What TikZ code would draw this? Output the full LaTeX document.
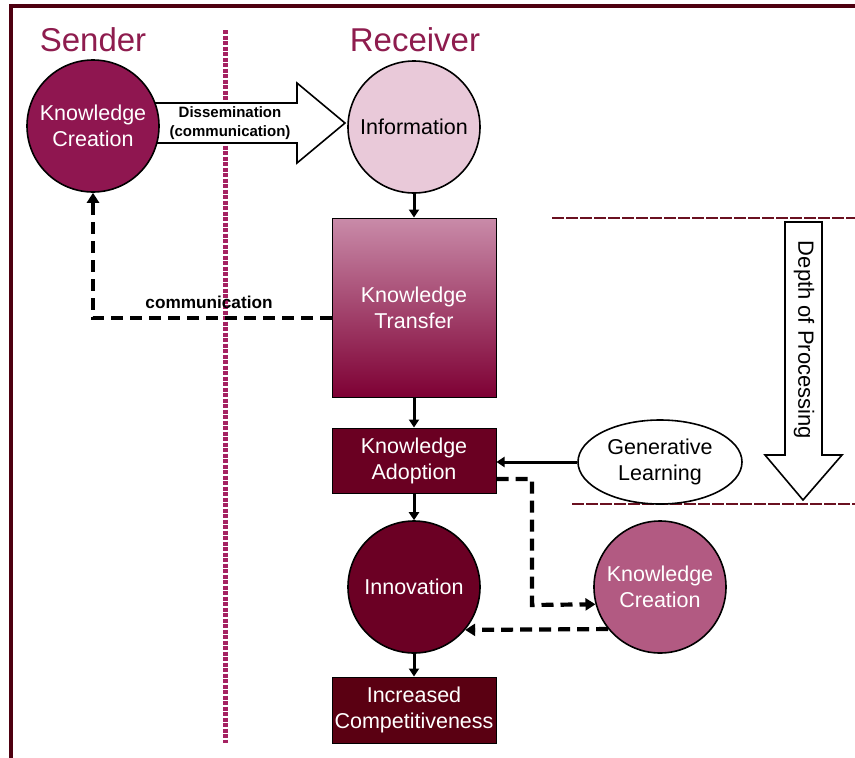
\documentclass[tikz,border=0pt]{standalone}
\usepackage{fontspec}
\setmainfont{Liberation Sans}
\usetikzlibrary{arrows.meta,shapes.geometric}
\definecolor{framec}{HTML}{4E0010}
\definecolor{titlec}{HTML}{8E1C4E}
\definecolor{kcone}{HTML}{8F1650}
\definecolor{infoc}{HTML}{E9C9D9}
\definecolor{kttop}{HTML}{C98BA9}
\definecolor{ktbot}{HTML}{7E0034}
\definecolor{kac}{HTML}{6A0022}
\definecolor{innc}{HTML}{6B0024}
\definecolor{icc}{HTML}{5A0012}
\definecolor{kctwo}{HTML}{B25A82}
\definecolor{dividerc}{HTML}{A52262}
\definecolor{hlinec}{HTML}{6A1020}
\tikzset{
  bigfont/.style={font=\fontsize{21.5}{26}\selectfont},
  circnode/.style={circle, draw=black, line width=1.6pt, minimum size=132pt, inner sep=0pt, align=center, bigfont},
  boxnode/.style={rectangle, draw=black, line width=1pt, minimum width=164pt, inner sep=0pt, align=center, bigfont, text=white},
  solidarrow/.style={line width=3pt, -{Triangle[width=10pt,length=8pt]}},
  dasharrow/.style={line width=4.2pt, dash pattern=on 12pt off 7pt, -{Triangle[width=12pt,length=10pt]}},
  titletext/.style={font=\fontsize{33}{37}\selectfont, text=titlec},
  smallbold/.style={font=\bfseries\fontsize{15}{19}\selectfont, align=center},
}
\begin{document}
\begin{tikzpicture}[x=1pt,y=-1pt]
\useasboundingbox (0,0) rectangle (855,758);
\fill[white] (0,0) rectangle (855,758);
% frame
\draw[framec, line width=3.5pt] (11,758) -- (11,6) -- (855,6);
% divider
\draw[dividerc, line width=5pt, dash pattern=on 4pt off 1.5pt] (225,30) -- (225,743);
% horizontal dotted lines
\draw[hlinec, line width=2.2pt, dash pattern=on 12pt off 2pt] (552,218) -- (855,218);
\draw[hlinec, line width=2.2pt, dash pattern=on 12pt off 2pt] (572,504) -- (855,504);
% titles
\node[titletext] (sender) at (93,40) {Sender};
\node[titletext] (receiver) at (415,40) {Receiver};
% big dissemination arrow
\draw[black, line width=1.6pt, fill=white] (150,103) -- (297,103) -- (297,83) -- (345,123) -- (297,163) -- (297,143) -- (150,143) -- cycle;
\node[smallbold] (diss) at (230,123) {Dissemination\\(communication)};
% nodes
\node[circnode, fill=kcone, text=white] (kc1) at (93,126) {Knowledge\\Creation};
\node[circnode, fill=infoc, text=black] (info) at (414,127) {Information};
\node[boxnode, minimum height=179pt, top color=kttop, bottom color=ktbot, draw=black] (kt) at (414,307.5) {Knowledge\\Transfer};
\node[boxnode, minimum height=65pt, fill=kac] (ka) at (414,460.5) {Knowledge\\Adoption};
\node[ellipse, draw=black, line width=1.6pt, fill=white, minimum width=164pt, minimum height=84pt, inner sep=0pt, align=center, bigfont] (gl) at (660,462) {Generative\\Learning};
\node[circnode, fill=innc, text=white] (inn) at (414,587) {Innovation};
\node[circnode, fill=kctwo, text=white] (kc2) at (660,587) {Knowledge\\Creation};
\node[boxnode, minimum height=66pt, fill=icc] (ic) at (414,710) {Increased\\Competitiveness};
% depth of processing arrow
\draw[black, line width=1.6pt, fill=white] (785,222) -- (822,222) -- (822,455) -- (842,455) -- (803,500) -- (765,455) -- (785,455) -- cycle;
\node[rotate=-90, font=\fontsize{22}{26}\selectfont] (dop) at (804,340) {Depth of Processing};
% connectors
\draw[solidarrow] (info.south) -- (kt.north);
\draw[solidarrow] (kt.south) -- (ka.north);
\draw[solidarrow] (ka.south) -- (inn.north);
\draw[solidarrow] (inn.south) -- (ic.north);
\draw[solidarrow] (gl.west) -- (gl.west -| ka.east);
\coordinate (c1) at (93,318);
\draw[dasharrow] ([yshift=-10.5pt]kt.west) -- (c1) -- (kc1.south);
\node[font=\bfseries\fontsize{17.2}{20}\selectfont] (commlabel) at (209,302) {communication};
\coordinate (c2) at (532,479);
\coordinate (c3) at (532,605);
\draw[dasharrow] ([yshift=-18.5pt]ka.east) -- (c2) -- (c3) -- (kc2.195.8);
\draw[dasharrow] (kc2.219.5) -- (inn.320.5);
\end{tikzpicture}
\end{document}
